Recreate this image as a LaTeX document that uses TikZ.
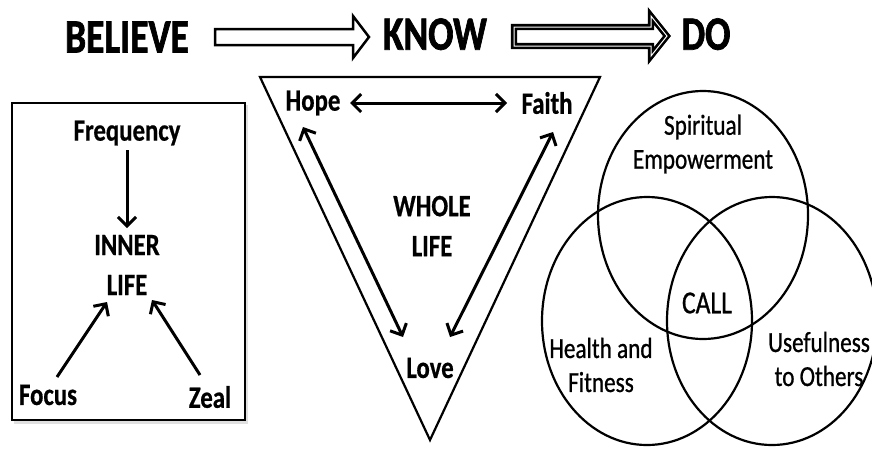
\documentclass[tikz,border=0pt]{standalone}
\usepackage{fontspec}
\setmainfont{Carlito}
\newfontfamily\cond[FakeStretch=0.8]{Carlito}
\newfontfamily\condbold[FakeStretch=0.8,FakeBold=0.6]{Carlito Bold}
\newfontfamily\condtitle[FakeStretch=0.78,FakeBold=1.4]{Carlito Bold}
\newfontfamily\condmed[FakeStretch=0.8,FakeBold=0.8]{Carlito}
\usetikzlibrary{arrows.meta}
\tikzset{
  title/.style={font=\condtitle\fontsize{48}{48}\selectfont, inner sep=0pt, text depth=0pt},
  lbl/.style={font=\condbold\fontsize{31}{40}\selectfont, inner sep=1pt, align=center},
  venn/.style={font=\condmed\fontsize{29}{34}\selectfont, inner sep=1pt, align=center},
  arr/.style={line width=3pt, -{Straight Barb[length=9pt,width=18pt]}},
  darr/.style={line width=3pt, {Straight Barb[length=9pt,width=18pt]}-{Straight Barb[length=9pt,width=18pt]}},
  blockarrow/.style={line width=2.5pt, fill=white, line join=miter},
  outline/.style={line width=2.2pt},
}
\begin{document}
\begin{tikzpicture}[x=1pt,y=-1pt]
\useasboundingbox (0,0) rectangle (872,450);
% titles
\node[title] (believe) at (127,37) {BELIEVE};
\node[title] (know) at (435,34) {KNOW};
\node[title] (do) at (706,34) {DO};
\draw[blockarrow] (215,29) -- (353,29) -- (353,16) -- (369,37) -- (353,58) -- (353,45) -- (215,45) -- cycle;
\draw[blockarrow, double, double distance=1pt, line width=2.6pt] (514,27) -- (651,27) -- (651,16) -- (667,36) -- (651,56) -- (651,46) -- (514,46) -- cycle;
% left box
\fill[black!20, opacity=0.6] (14,105) rectangle (248,424);
\draw[line width=2.5pt, fill=white] (12,103) rectangle (245,420);
\node[lbl] (freq) at (127,133) {Frequency};
\node[lbl] (inner) at (127,265) {INNER\\LIFE};
\node[lbl] (focus) at (48,395) {Focus};
\node[lbl] (zeal) at (210,397) {Zeal};
\draw[arr] ([shift={(0,17)}]freq.center) -- ([shift={(0,-37)}]inner.center);
\draw[arr] ([shift={(9,-18)}]focus.center) -- ([shift={(-20,37)}]inner.center);
\draw[arr] ([shift={(-10,-22)}]zeal.center) -- ([shift={(25,35)}]inner.center);
% triangle
\draw[outline, line join=miter] (260,77) -- (600,77) -- (430,440) -- cycle;
\node[lbl] (hope) at (313,103) {Hope};
\node[lbl] (faith) at (547,103) {Faith};
\node[lbl] (love) at (430,368) {Love};
\node[lbl] (whole) at (432,226) {WHOLE\\LIFE};
\draw[darr] ([xshift=37pt]hope.center) -- ([xshift=-40pt]faith.center);
\draw[darr] ([shift={(-10,24)}]hope.center) -- ([shift={(-27,-31)}]love.center);
\draw[darr] ([shift={(6,29)}]faith.center) -- ([shift={(20,-31)}]love.center);
% venn
\draw[outline] (703,215) ellipse [x radius=105, y radius=124];
\draw[outline] (647,321) ellipse [x radius=105, y radius=124];
\draw[outline] (772,321) ellipse [x radius=105, y radius=124];
\node[venn] (spirit) at (703,144) {Spiritual\\Empowerment};
\node[venn, font=\condmed\fontsize{32}{34}\selectfont] (call) at (707,303) {CALL};
\node[venn] (health) at (601,365) {Health and\\Fitness};
\node[venn] (useful) at (819,359) {Usefulness\\to Others};
\end{tikzpicture}
\end{document}
